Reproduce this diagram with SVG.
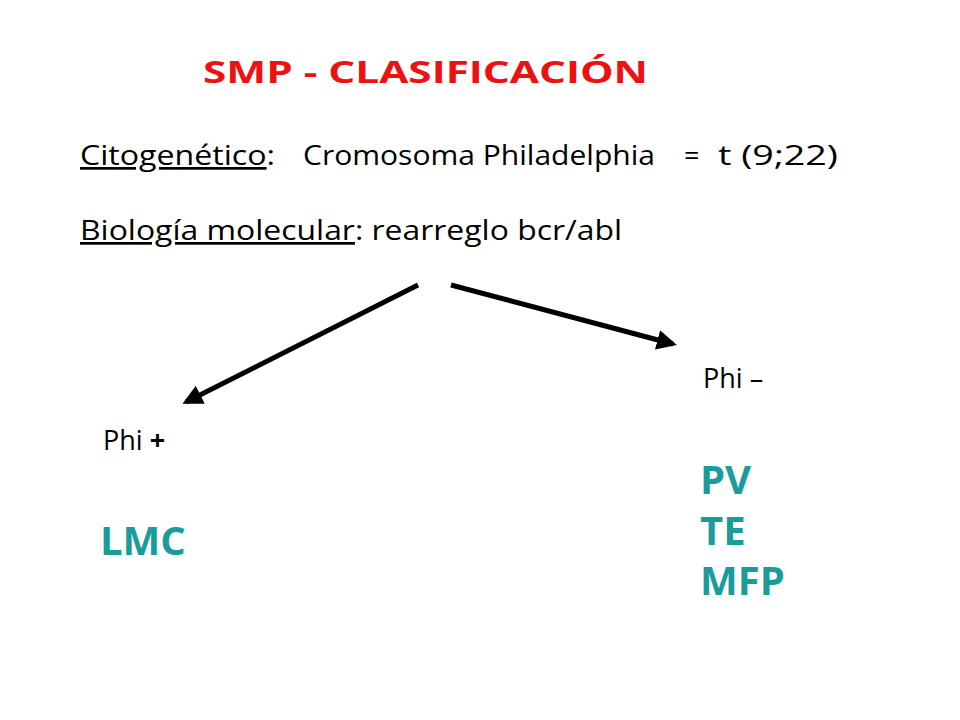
<svg xmlns="http://www.w3.org/2000/svg" width="960" height="720" viewBox="0 0 960 720">
<style>
.t{font-family:"Open Sans","DejaVu Sans",sans-serif;fill:#000;font-size:27px}
.g{font-family:"Open Sans","DejaVu Sans",sans-serif;fill:#1a9c9c;font-size:40px;font-weight:bold}
.c{stroke:#000;stroke-width:5;fill:none;marker-end:url(#a)}
</style>
<defs><marker id="a" viewBox="0 0 10 10" refX="8" refY="5" markerWidth="4" markerHeight="4" orient="auto" markerUnits="strokeWidth"><path d="M0,0L10,5L0,10z" fill="#000"/></marker></defs>
<rect width="960" height="720" fill="#fff"/>
<g id="title"><text x="203" y="83" textLength="445" lengthAdjust="spacingAndGlyphs" style="font-family:'Open Sans','DejaVu Sans',sans-serif;font-size:31px;font-weight:bold;fill:#ee1111">SMP - CLASIFICACIÓN</text></g>
<g id="cito"><text class="t" x="80" y="165" textLength="195" lengthAdjust="spacingAndGlyphs"><tspan text-decoration="underline">Citogenético</tspan>:</text>
<text class="t" x="303" y="165" textLength="352" lengthAdjust="spacingAndGlyphs">Cromosoma Philadelphia</text>
<text class="t" x="684" y="165">=</text>
<text class="t" x="718" y="165" textLength="120" lengthAdjust="spacingAndGlyphs">t (9;22)</text></g>
<g id="bio"><text class="t" x="80" y="240" textLength="542" lengthAdjust="spacingAndGlyphs"><tspan text-decoration="underline">Biología molecular</tspan>: rearreglo bcr/abl</text></g>
<g id="connectors">
<line class="c" x1="418" y1="285" x2="186" y2="402"/>
<line class="c" x1="451" y1="285" x2="673" y2="344"/>
</g>
<g id="phiminus"><text class="t" x="703" y="388">Phi –</text>
<text class="g" x="700" y="494">PV</text><text class="g" x="700" y="545">TE</text><text class="g" x="700" y="595">MFP</text></g>
<g id="phiplus"><text class="t" x="103" y="450">Phi <tspan font-weight="bold">+</tspan></text>
<text class="g" x="100" y="555">LMC</text></g>
</svg>
